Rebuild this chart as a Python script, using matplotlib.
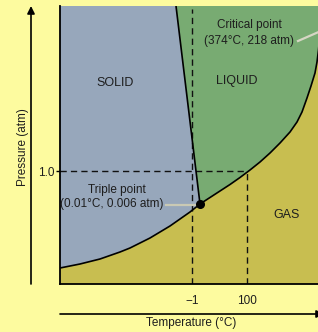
import matplotlib
matplotlib.use("Agg")
import matplotlib.pyplot as plt
import numpy as np

plt.rcParams['font.family'] = ['Liberation Sans', 'DejaVu Sans']

# Schematic phase diagram of water (arbitrary schematic units)
# Sublimation curve (solid/gas boundary) up to triple point
sub_x = [0, 10, 20, 30, 40, 50, 60, 70, 80, 90, 100, 110, 120, 130, 140]
sub_y = [16, 18, 20, 22.5, 25, 28.5, 32, 36, 41, 46, 52, 58, 65, 72, 80]
# Vaporization curve (liquid/gas boundary) from triple point toward critical point
vap_x = [140, 150, 160, 170, 180, 190, 200, 210, 220, 230, 237, 242, 247, 251, 255, 257, 258.5, 260, 262]
vap_y = [80, 86.5, 93, 99.5, 106.5, 114, 122, 131, 141, 152, 162, 172, 186, 198, 211, 222, 234, 250, 290]
# Fusion curve (solid/liquid boundary)
fus_x = [140, 116]
fus_y = [80, 278]
triple = (140, 80)
# Reference lines / ticks
t_minus1 = 132
t_100 = 187
p_1 = 113
xtick_pos = [t_minus1, t_100]
xtick_lab = ['\u22121', '100']
ytick_pos = [p_1]
ytick_lab = ['1.0']

XMAX, YMAX = 258, 278

BG = '#FDFB9F'
SOLID_C = '#97A7BB'
LIQ_C = '#78AB72'
GAS_C = '#C8BE50'
TXT = '#1e1e1e'

fig = plt.figure(figsize=(3.18, 3.32), dpi=100, facecolor=BG)
ax = fig.add_axes([60/318, (332-284)/332, 258/318, 278/332])
ax.set_xlim(0, XMAX)
ax.set_ylim(0, YMAX)
ax.set_facecolor(GAS_C)

# Solid region
solid_poly_x = [0, 0, fus_x[1], fus_x[0]] + sub_x[::-1]
solid_poly_y = [sub_y[0], YMAX, YMAX, fus_y[0]] + sub_y[::-1]
ax.fill(solid_poly_x, solid_poly_y, color=SOLID_C, lw=0, zorder=1)

# Liquid region
liq_x = [fus_x[1], fus_x[0]] + vap_x[1:] + [vap_x[-1], fus_x[1]]
liq_y = [fus_y[1], fus_y[0]] + vap_y[1:] + [YMAX + 20, YMAX + 20]
ax.fill(liq_x, liq_y, color=LIQ_C, lw=0, zorder=1)

# Dashed guide lines
dash = dict(color='#111111', lw=1.0, linestyle=(0, (4.5, 3)), zorder=2)
ax.plot([t_minus1, t_minus1], [0, YMAX - 3], **dash)
ax.plot([0, t_100], [p_1, p_1], **dash)
ax.plot([t_100, t_100], [0, p_1], **dash)

# Phase boundaries
line = dict(color='black', lw=1.2, zorder=3, solid_joinstyle='round', solid_capstyle='butt')
ax.plot(sub_x, sub_y, **line)
ax.plot(vap_x, vap_y, **line)
ax.plot(fus_x, fus_y, **line)
ax.plot([triple[0]], [triple[1]], 'o', color='black', ms=5.5, zorder=4)

# Leader lines
ax.plot([106, 137], [79, 79], color='#c9c9b4', lw=1.6, zorder=3)
ax.plot([238, 270], [243, 257], color='#d6d6c4', lw=1.6, zorder=3)

# Region labels
ax.text(55, 201, 'SOLID', ha='center', va='center', fontsize=9, color=TXT)
ax.text(177, 203, 'LIQUID', ha='center', va='center', fontsize=9, color=TXT)
ax.text(227, 69, 'GAS', ha='center', va='center', fontsize=9, color=TXT)
ax.text(189, 259, 'Critical point', ha='center', va='center', fontsize=8.5, color=TXT)
ax.text(189, 243, '(374\u00b0C, 218 atm)', ha='center', va='center', fontsize=8.5, color=TXT)
ax.text(57, 94, 'Triple point', ha='center', va='center', fontsize=8.5, color=TXT)
ax.text(52, 80, '(0.01\u00b0C, 0.006 atm)', ha='center', va='center', fontsize=8.5, color=TXT)

# Spines and ticks
for s in ['top', 'right']:
    ax.spines[s].set_visible(False)
for s in ['left', 'bottom']:
    ax.spines[s].set_linewidth(1.3)
    ax.spines[s].set_color('black')
ax.set_xticks(xtick_pos)
ax.set_xticklabels(xtick_lab, fontsize=8.5, color=TXT)
ax.set_yticks(ytick_pos)
ax.set_yticklabels(ytick_lab, fontsize=8.5, color=TXT)
ax.tick_params(axis='x', length=0, pad=8)
ax.tick_params(axis='y', length=3, width=1.0, pad=1)

# Axis arrows and titles (figure pixel coordinates)
ax.annotate('', xy=(31, 332-6), xytext=(31, 332-284), xycoords='figure pixels',
            textcoords='figure pixels',
            arrowprops=dict(arrowstyle='-|>', lw=1.2, color='black', mutation_scale=11,
                            shrinkA=0, shrinkB=0))
ax.annotate('', xy=(324, 332-314), xytext=(60, 332-314), xycoords='figure pixels',
            textcoords='figure pixels',
            arrowprops=dict(arrowstyle='-|>', lw=1.2, color='black', mutation_scale=11,
                            shrinkA=0, shrinkB=0))
fig.text(23/318, 1 - 147/332, 'Pressure (atm)', rotation=90, ha='center', va='center',
         fontsize=8.5, color=TXT)
fig.text(191/318, 1 - 323/332, 'Temperature (\u00b0C)', ha='center', va='center',
         fontsize=8.5, color=TXT)

fig.savefig('out.png', dpi=100, facecolor=BG)
